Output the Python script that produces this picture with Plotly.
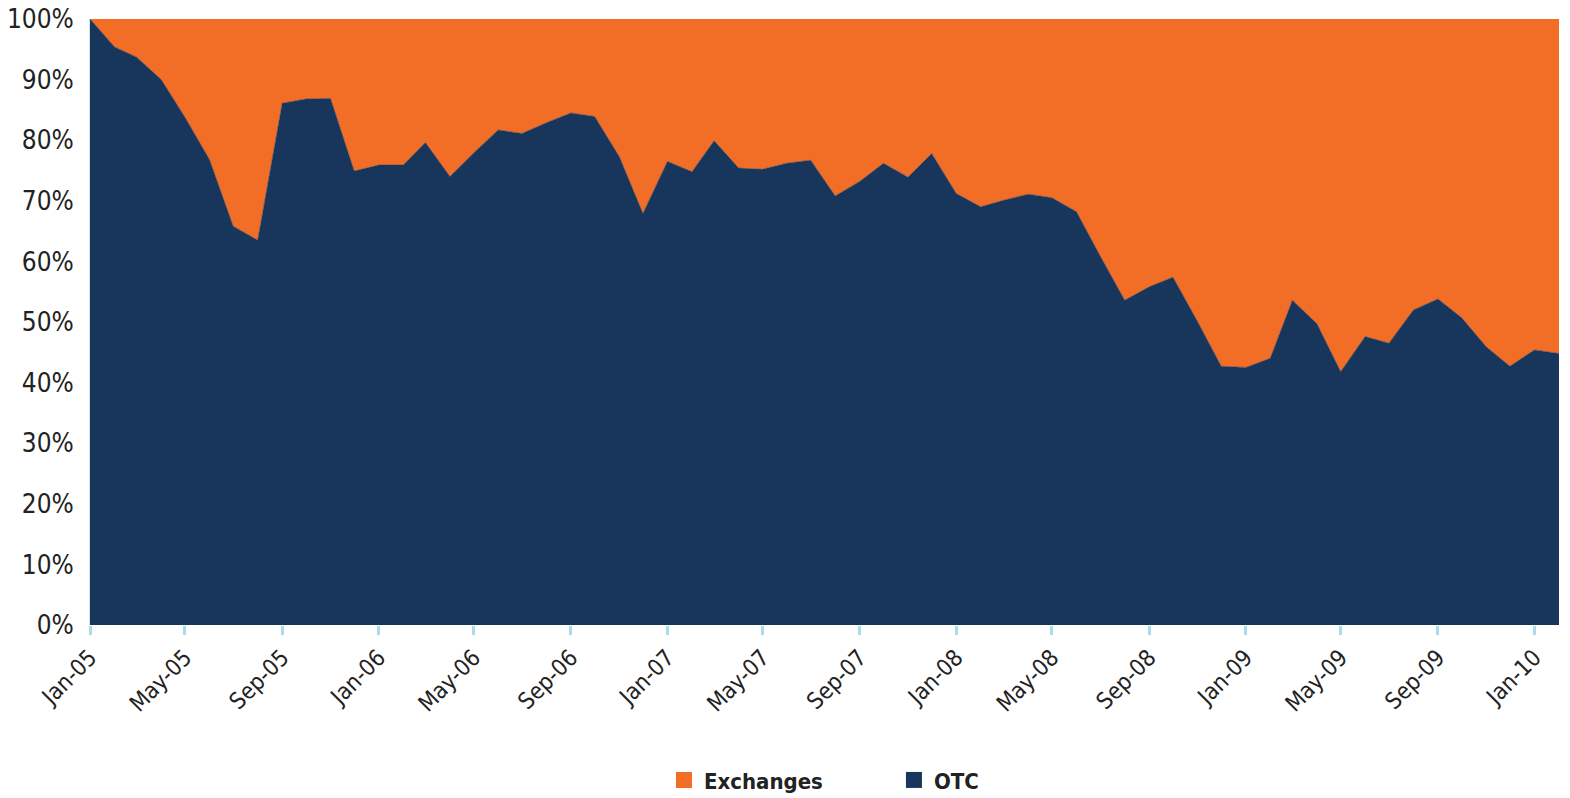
import pandas as pd
import plotly.graph_objects as go

months = pd.date_range("2005-01-01", "2010-02-01", freq="MS")

otc = [100.0, 95.4, 93.7, 90.0, 83.8, 76.8, 65.8, 63.5, 86.1, 86.8, 86.9, 74.9,
       75.9, 75.9, 79.6, 74.0, 77.9, 81.7, 81.1, 82.9, 84.5, 83.9, 77.3, 67.9,
       76.5, 74.8, 79.9, 75.4, 75.2, 76.2, 76.7, 70.8, 73.2, 76.2, 73.9, 77.8,
       71.2, 69.0, 70.1, 71.1, 70.5, 68.2, 60.9, 53.6, 55.8, 57.4, 50.1, 42.7,
       42.5, 44.0, 53.6, 49.7, 41.8, 47.6, 46.5, 52.0, 53.8, 50.7, 45.9, 42.7,
       45.4, 44.8]

exchanges = [0.0, 4.6, 6.3, 10.0, 16.2, 23.2, 34.2, 36.5, 13.9, 13.2, 13.1, 25.1,
             24.1, 24.1, 20.4, 26.0, 22.1, 18.3, 18.9, 17.1, 15.5, 16.1, 22.7, 32.1,
             23.5, 25.2, 20.1, 24.6, 24.8, 23.8, 23.3, 29.2, 26.8, 23.8, 26.1, 22.2,
             28.8, 31.0, 29.9, 28.9, 29.5, 31.8, 39.1, 46.4, 44.2, 42.6, 49.9, 57.3,
             57.5, 56.0, 46.4, 50.3, 58.2, 52.4, 53.5, 48.0, 46.2, 49.3, 54.1, 57.3,
             54.6, 55.2]

series_names = ["Exchanges", "OTC"]

ORANGE = "#F26D26"
NAVY = "#18365C"
FONT = "DejaVu Sans Condensed, sans-serif"

fig = go.Figure()
fig.add_trace(go.Scatter(
    x=months, y=otc, name="OTC", mode="lines", stackgroup="s",
    line=dict(color=NAVY, width=0.5), fillcolor=NAVY, showlegend=False,
))
fig.add_trace(go.Scatter(
    x=months, y=exchanges, name="Exchanges", mode="lines", stackgroup="s",
    line=dict(color=ORANGE, width=0.5), fillcolor=ORANGE, showlegend=False,
))
# legend entries with square swatches
for nm, col in zip(series_names, [ORANGE, NAVY]):
    fig.add_trace(go.Scatter(
        x=[None], y=[None], name=nm, mode="markers",
        marker=dict(symbol="square", size=20, color=col), showlegend=True,
    ))

fig.update_layout(
    width=1570, height=798,
    margin=dict(l=90, r=11, t=19, b=173, autoexpand=False),
    plot_bgcolor="white", paper_bgcolor="white",
    font=dict(family=FONT, color="#222222", size=22),
    showlegend=True,
    legend=dict(orientation="h", x=0.3907, xanchor="left", y=-0.256, yanchor="middle",
                font=dict(size=22, family=FONT, color="#222222", weight="bold"),
                entrywidth=185, entrywidthmode="pixels", traceorder="normal", itemwidth=30),
    xaxis=dict(
        range=[months[0], months[-1]], tickmode="linear", tick0="2005-01-01", dtick="M4",
        tickformat="%b-%y", tickangle=-45, ticks="outside", ticklen=9, tickwidth=3,
        tickcolor="#A8DDEA", showgrid=False, zeroline=False, showline=False,
        automargin=False, ticklabeloverflow="allow",
        tickfont=dict(size=23, family=FONT, color="#222222"),
    ),
    yaxis=dict(
        range=[0, 100], dtick=10, ticksuffix="%", showgrid=False, zeroline=False,
        showline=True, linecolor="#C8E4EE", linewidth=1, automargin=False,
        ticklen=0, ticks="", ticklabelstandoff=10, ticklabeloverflow="allow",
        tickfont=dict(size=26, family=FONT, color="#222222"),
    ),
)

fig.write_html(
    "out.html",
    config={"displayModeBar": False},
    post_script="document.body.style.margin='0';document.body.style.overflow='hidden';",
)
